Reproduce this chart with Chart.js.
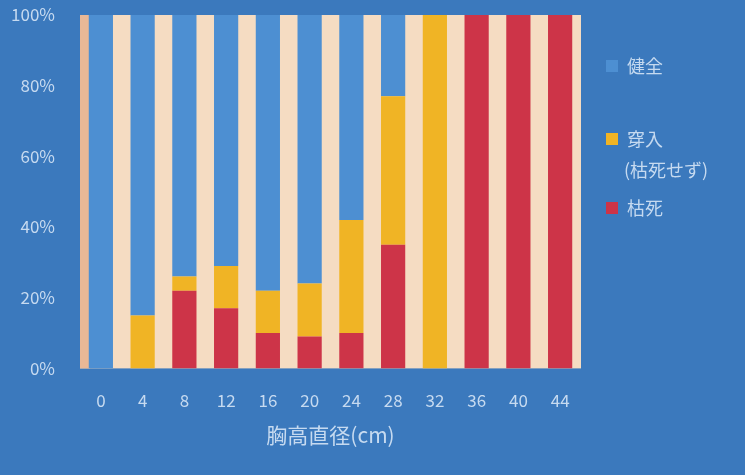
<!DOCTYPE html>
<html>
<head>
<meta charset="utf-8">
<script src="https://cdn.jsdelivr.net/npm/chart.js@4"></script>
<style>
  html, body { margin: 0; padding: 0; background: #3b79bd; }
  #wrap { width: 745px; height: 475px; }
</style>
</head>
<body>
<div id="wrap"><canvas id="myChart" width="745" height="475"></canvas></div>
<script>
// diameter classes (cm)
const categories = ['0', '4', '8', '12', '16', '20', '24', '28', '32', '36', '40', '44'];

// share of trees per class (%)
const healthy  = [100, 85, 74, 71, 78, 76, 58, 23, 0, 0, 0, 0];
const attacked = [0, 15, 4, 12, 12, 15, 32, 42, 100, 0, 0, 0];
const dead     = [0, 0, 22, 17, 10, 9, 10, 35, 0, 100, 100, 100];

const seriesNames = ['健全', '穿入\n(枯死せず)', '枯死'];
const yTicks = [0, 20, 40, 60, 80, 100];

const textColor = '#c6daf0';
const font = "'Noto Sans CJK JP', 'DejaVu Sans', sans-serif";

// cream plot area behind the bars
const plotBackground = {
    id: 'plotBackground',
    beforeDraw(chart) {
        const { ctx, chartArea: a } = chart;
        ctx.save();
        ctx.fillStyle = '#f5dcc2';
        ctx.fillRect(a.left, a.top, a.right - a.left, a.bottom - a.top);
        ctx.fillStyle = '#e9b896';
        ctx.fillRect(a.left, a.top, 10, a.bottom - a.top);
        ctx.restore();
    }
};

// legend on the right, top entry = top of the stack, two-line label allowed
const sideLegend = {
    id: 'sideLegend',
    afterDraw(chart) {
        const { ctx } = chart;
        const rows = [66, 139, 208];
        ctx.save();
        ctx.font = '18px ' + font;
        ctx.textBaseline = 'middle';
        chart.data.datasets.slice().reverse().forEach((ds, i) => {
            const y = rows[i];
            ctx.fillStyle = ds.backgroundColor;
            ctx.fillRect(606, y - 6, 12, 12);
            ctx.fillStyle = textColor;
            ds.label.split('\n').forEach((line, j) => {
                ctx.fillText(line, j === 0 ? 627 : 624, y + j * 31);
            });
        });
        ctx.restore();
    }
};

const ctx = document.getElementById('myChart').getContext('2d');

const myChart = new Chart(ctx, {
    type: 'bar',
    data: {
        labels: categories,
        datasets: [
            { label: seriesNames[2], data: dead, backgroundColor: '#cd3448' },
            { label: seriesNames[1], data: attacked, backgroundColor: '#f0b425' },
            { label: seriesNames[0], data: healthy, backgroundColor: '#4d8fd2' }
        ]
    },
    options: {
        responsive: false,
        animation: false,
        layout: { padding: { top: 0, right: 164, bottom: 23, left: 0 } },
        datasets: { bar: { barPercentage: 0.58, categoryPercentage: 1 } },
        plugins: {
            legend: { display: false },
            tooltip: { enabled: false }
        },
        scales: {
            x: {
                stacked: true,
                grid: { display: false, drawTicks: false },
                border: { display: false },
                ticks: { color: textColor, font: { size: 17, family: font }, padding: 22 },
                title: {
                    display: true,
                    text: '胸高直径(cm)',
                    color: textColor,
                    font: { size: 21, family: font },
                    padding: { top: -10, bottom: 4 }
                }
            },
            y: {
                stacked: true,
                min: 0,
                max: 100,
                afterFit(scale) {
                    scale.width = 80;
                    scale.paddingTop = 15;
                    scale.paddingBottom = 10;
                },
                afterBuildTicks(scale) { scale.ticks = yTicks.map(v => ({ value: v })); },
                grid: { display: false, drawTicks: false },
                border: { display: false },
                ticks: {
                    color: textColor,
                    font: { size: 17, family: font },
                    padding: 25,
                    callback: v => v + '%'
                }
            }
        }
    },
    plugins: [plotBackground, sideLegend]
});
</script>
</body>
</html>
